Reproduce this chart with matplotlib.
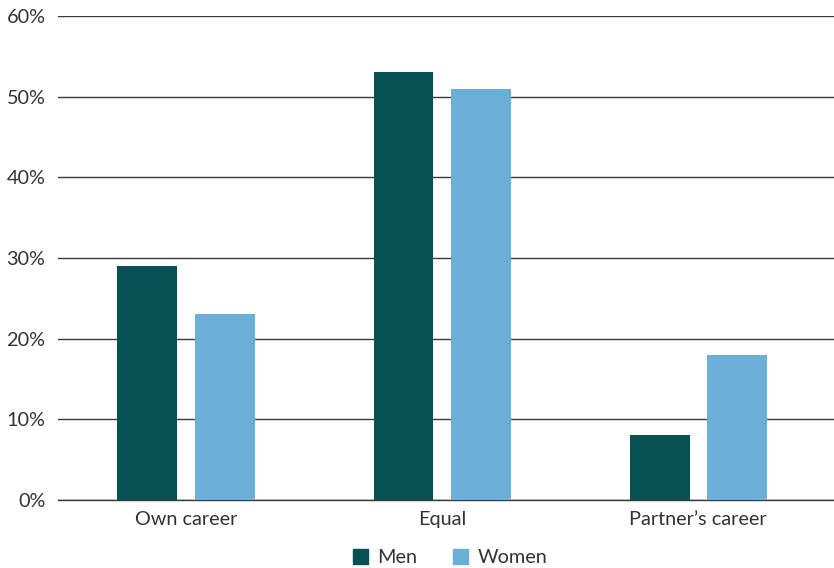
import numpy as np
import matplotlib.pyplot as plt
from matplotlib.patches import Patch

# Data
categories = ['Own career', 'Equal', 'Partner\u2019s career']
men = [29, 53, 8]
women = [23, 51, 18]
series_names = ['Men', 'Women']
yticks = [0, 10, 20, 30, 40, 50, 60]

MEN_COLOR = '#085152'
WOMEN_COLOR = '#69afd7'
TEXT_COLOR = '#333333'
LINE_COLOR = '#3a3a3a'

plt.rcParams['font.family'] = ['Lato', 'DejaVu Sans']

fig = plt.figure(figsize=(8.34, 5.68), dpi=100)
ax = fig.add_axes([0.0695, 0.1197, 0.9305, 0.8521])

x = np.arange(len(categories))
width = 0.234
ax.bar(x - 0.151, men, width, color=MEN_COLOR, zorder=3)
ax.bar(x + 0.151, women, width, color=WOMEN_COLOR, zorder=3)

ax.set_xlim(-0.5, 2.53)
ax.set_ylim(0, 60)
ax.set_yticks(yticks)
ax.set_yticklabels([f'{v}%' for v in yticks], fontsize=14.3, color=TEXT_COLOR)
ax.set_xticks(x)
ax.set_xticklabels(categories, fontsize=14.3, color=TEXT_COLOR)
ax.tick_params(axis='x', length=0, pad=8)
ax.tick_params(axis='y', length=0, pad=9)

ax.grid(axis='y', color=LINE_COLOR, linewidth=1.0, zorder=0)
for side in ['top', 'right', 'left']:
    ax.spines[side].set_visible(False)
ax.spines['bottom'].set_color(LINE_COLOR)
ax.spines['bottom'].set_linewidth(1.0)

handles = [Patch(color=MEN_COLOR), Patch(color=WOMEN_COLOR)]
fig.legend(handles, series_names, loc='center', bbox_to_anchor=(0.54, 0.018),
           ncol=2, frameon=False, fontsize=14.3, handlelength=0.75, handleheight=0.75,
           handletextpad=0.5, columnspacing=1.8, labelcolor=TEXT_COLOR)

fig.savefig('out.png', dpi=100)
